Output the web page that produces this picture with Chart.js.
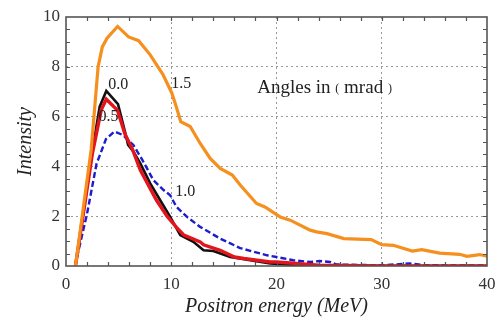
<!DOCTYPE html>
<html><head><meta charset="utf-8">
<script src="https://cdn.jsdelivr.net/npm/chart.js@4/dist/chart.umd.min.js"></script>
<style>html,body{margin:0;padding:0;background:#fff}</style>
</head><body>
<canvas id="c" width="495" height="320"></canvas>
<script>
// ---- data ----
const xTicks = [0, 10, 20, 30, 40];
const yTicks = [0, 2, 4, 6, 8, 10];

const angle00X = [0.9, 2.5, 3.2, 3.83, 4.94, 5.6, 5.9, 6.4, 7.06, 8.0, 8.95, 9.9, 10.85, 12.1, 13.07, 14.0, 15.6, 17.5, 19.4, 22.25, 25, 30, 40];
const angle00Y = [0, 4.6, 6.4, 7.03, 6.5, 5.4, 4.86, 4.6, 4.12, 3.32, 2.64, 1.97, 1.24, 0.97, 0.63, 0.6, 0.36, 0.23, 0.1, 0.03, 0.01, 0, 0];

const angle05X = [0.9, 2.5, 3.35, 3.83, 4.9, 5.6, 6.3, 7.06, 8.6, 9.6, 10.5, 11.2, 12.75, 13.07, 14.65, 16.0, 16.9, 19.4, 20.0, 21.9, 24, 30, 40];
const angle05Y = [0, 4.5, 6.27, 6.7, 6.25, 5.3, 4.7, 3.85, 2.64, 2.0, 1.55, 1.24, 0.97, 0.85, 0.63, 0.36, 0.3, 0.16, 0.16, 0.1, 0.03, 0, 0];

const angle10X = [0.85, 2.0, 2.9, 3.8, 4.6, 5.4, 6.4, 7.2, 8.3, 9.27, 9.9, 10.5, 11.5, 12.75, 14.65, 16.55, 19.1, 20.0, 21.6, 23.2, 24.1, 25.1, 25.7, 28, 30, 32.7, 34, 40];
const angle10Y = [0, 2.1, 4.1, 5.1, 5.4, 5.26, 4.86, 4.3, 3.45, 3.05, 2.84, 2.37, 1.97, 1.57, 1.1, 0.72, 0.43, 0.36, 0.23, 0.16, 0.2, 0.16, 0.06, 0.04, 0.03, 0.1, 0.03, 0.02];

const angle15X = [0.9, 2.4, 3.05, 3.45, 3.9, 4.9, 5.95, 6.9, 8.0, 9.2, 10.05, 10.4, 10.9, 11.8, 12.75, 13.7, 14.65, 15.8, 16.55, 18.1, 18.9, 20.35, 21.3, 23.2, 23.8, 24.8, 26.4, 29.0, 30.0, 31.1, 32.9, 33.8, 35.5, 37.4, 38.1, 39.3, 40];
const angle15Y = [0, 4.7, 8.0, 8.8, 9.15, 9.62, 9.2, 9.05, 8.48, 7.7, 6.95, 6.5, 5.8, 5.6, 4.92, 4.32, 3.92, 3.65, 3.25, 2.51, 2.37, 1.97, 1.84, 1.44, 1.37, 1.3, 1.1, 1.06, 0.86, 0.83, 0.6, 0.66, 0.52, 0.47, 0.39, 0.46, 0.39];

const curveLabels = ['0.0', '0.5', '1.0', '1.5'];
const curveLabelX = [4.97, 4.03, 11.33, 10.95];
const curveLabelY = [7.27, 5.98, 2.96, 7.33];
const noteX = 18.17, noteY = 7.15;

const toPts = (xs, ys) => xs.map((x, i) => ({x: x, y: ys[i]}));
const SERIF = "'Liberation Serif', 'DejaVu Serif', serif";

const decor = {
  id: 'decor',
  afterDatasetsDraw(chart) {
    const {ctx, chartArea: a, scales: {x, y}} = chart;
    ctx.save();
    ctx.strokeStyle = '#555';
    ctx.lineWidth = 1.2;
    ctx.beginPath();
    for (let v = 2; v < 40; v += 2) {
      const px = Math.round(x.getPixelForValue(v)) + 0.5;
      ctx.moveTo(px, a.bottom); ctx.lineTo(px, a.bottom - 4);
      ctx.moveTo(px, a.top); ctx.lineTo(px, a.top + 4);
    }
    for (let v = 0.5; v < 10; v += 0.5) {
      const py = Math.round(y.getPixelForValue(v)) + 0.5;
      ctx.moveTo(a.left, py); ctx.lineTo(a.left + 4, py);
      ctx.moveTo(a.right, py); ctx.lineTo(a.right - 4, py);
    }
    ctx.stroke();
    ctx.lineWidth = 1.6;
    ctx.strokeRect(a.left, a.top, a.right - a.left, a.bottom - a.top);

    ctx.fillStyle = '#222';
    ctx.textAlign = 'center';
    ctx.textBaseline = 'middle';
    ctx.font = '16px ' + SERIF;
    curveLabels.forEach((t, i) => {
      ctx.fillText(t, x.getPixelForValue(curveLabelX[i]), y.getPixelForValue(curveLabelY[i]));
    });
    // "Angles in (mrad)"
    let px = x.getPixelForValue(noteX);
    const py = y.getPixelForValue(noteY);
    ctx.textAlign = 'left';
    const parts = [['Angles in ', 19], ['(', 12], [' mrad ', 19], [')', 12]];
    parts.forEach(([t, s]) => {
      ctx.font = s + 'px ' + SERIF;
      ctx.fillText(t, px, py + (s < 19 ? 1 : 0));
      px += ctx.measureText(t).width;
    });
    ctx.restore();
  }
};

const gridColor = (max) => (c) => (c.tick && (c.tick.value === 0 || c.tick.value === max)) ? 'rgba(0,0,0,0)' : '#9a9a9a';

new Chart(document.getElementById('c'), {
  type: 'line',
  data: {
    datasets: [
      {label: '1.5', data: toPts(angle15X, angle15Y), borderColor: '#f5901e', borderWidth: 3.2, order: 0},
      {label: '0.0', data: toPts(angle00X, angle00Y), borderColor: '#111111', borderWidth: 2.6, order: 2},
      {label: '0.5', data: toPts(angle05X, angle05Y), borderColor: '#e3141c', borderWidth: 3.4, order: 1},
      {label: '1.0', data: toPts(angle10X, angle10Y), borderColor: '#1c1ccf', borderWidth: 2.4, borderDash: [6, 3], order: 3}
    ]
  },
  options: {
    responsive: false,
    animation: false,
    layout: {padding: {left: 0, top: 17, right: 8, bottom: 0}},
    elements: {point: {radius: 0}, line: {tension: 0, fill: false}},
    plugins: {legend: {display: false}, tooltip: {enabled: false}},
    scales: {
      x: {
        type: 'linear', min: 0, max: 40,
        afterBuildTicks: s => { s.ticks = xTicks.map(v => ({value: v})); },
        afterFit: s => { s.height = 54; s.paddingLeft = 0; s.paddingRight = 0; },
        ticks: {color: '#333', font: {family: SERIF, size: 17}, padding: 8, maxRotation: 0, autoSkip: false},
        grid: {color: gridColor(40), lineWidth: 1, drawTicks: false},
        border: {display: false, dash: [2, 3]},
        title: {display: true, text: 'Positron energy (MeV)', color: '#222',
                font: {family: SERIF, size: 20, style: 'italic'}, padding: {top: 0, bottom: 1}}
      },
      y: {
        type: 'linear', min: 0, max: 10,
        afterBuildTicks: s => { s.ticks = yTicks.map(v => ({value: v})); },
        afterFit: s => { s.width = 66; s.paddingTop = 0; s.paddingBottom = 0; },
        ticks: {color: '#333', font: {family: SERIF, size: 17}, padding: 6},
        grid: {color: gridColor(10), lineWidth: 1, drawTicks: false},
        border: {display: false, dash: [2, 3]},
        title: {display: true, text: 'Intensity', color: '#222',
                font: {family: SERIF, size: 20, style: 'italic'}, padding: {top: 14, bottom: 0}}
      }
    }
  },
  plugins: [decor]
});
</script>
</body></html>
